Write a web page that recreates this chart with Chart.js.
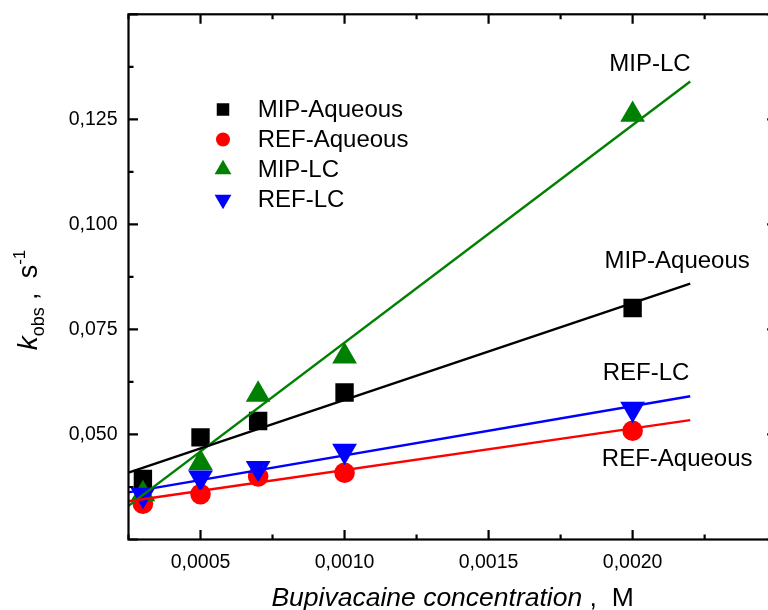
<!DOCTYPE html>
<html><head><meta charset="utf-8">
<script src="https://cdn.jsdelivr.net/npm/chart.js@4/dist/chart.umd.min.js"></script>
<style>
html,body{margin:0;padding:0;background:#fff;overflow:hidden;}
#wrap{position:relative;width:792px;height:610px;}
</style></head><body>
<div id="wrap"><canvas id="c"></canvas></div>
<script>
// ---- data ----
const concentrations = [0.0003, 0.0005, 0.0007, 0.0010, 0.0020];
const mipAqueous = [0.0394, 0.0493, 0.0532, 0.0600, 0.0801];
const refAqueous = [0.0335, 0.0358, 0.0400, 0.0409, 0.0509];
const mipLC      = [0.0358, 0.0432, 0.0595, 0.0686, 0.1261];
const refLC      = [0.0356, 0.0397, 0.0420, 0.0461, 0.0561];
const fitX          = [0.00025, 0.0022];
const fitMipAqueous = [0.0409, 0.0859];
const fitRefAqueous = [0.0341, 0.0534];
const fitMipLC      = [0.0330, 0.1340];
const fitRefLC      = [0.0362, 0.0591];
const seriesNames = ['MIP-Aqueous', 'REF-Aqueous', 'MIP-LC', 'REF-LC'];
const xTickValues = [0.0005, 0.0010, 0.0015, 0.0020];
const xTickLabels = ['0,0005', '0,0010', '0,0015', '0,0020'];
const yTickValues = [0.050, 0.075, 0.100, 0.125];
const yTickLabels = ['0,050', '0,075', '0,100', '0,125'];
// curve labels placed in data coordinates (left edge, baseline)
const curveLabelText = ['MIP-LC', 'MIP-Aqueous', 'REF-LC', 'REF-Aqueous'];
const curveLabelX = [0.001919, 0.001902, 0.001896, 0.001893];
const curveLabelY = [0.1366, 0.08965, 0.06285, 0.0425];

// ---- styles ----
const FONT = "'Liberation Sans', Arial, sans-serif";
const COLORS = ['#000000', '#ff0000', '#008000', '#0000ff'];
const MARKERS = [
  {pointStyle: 'rect', rotation: 0, radius: 13},
  {pointStyle: 'circle', rotation: 0, radius: 10.3},
  {pointStyle: 'triangle', rotation: 0, radius: 14.3},
  {pointStyle: 'triangle', rotation: 180, radius: 14.3}
];
const X_MAJOR = 0.0005, Y_MAJOR = 0.025;

const markerSeries = [mipAqueous, refAqueous, mipLC, refLC];
const fitSeries = [fitMipAqueous, fitRefAqueous, fitMipLC, fitRefLC];
const datasets = [];
fitSeries.forEach((ys, i) => datasets.push({
  label: seriesNames[i] + ' fit',
  data: fitX.map((x, j) => ({x: x, y: ys[j]})),
  showLine: true, borderColor: COLORS[i], borderWidth: 2.4,
  pointRadius: 0, pointHoverRadius: 0, order: 0
}));
markerSeries.forEach((ys, i) => datasets.push({
  label: seriesNames[i],
  data: concentrations.map((x, j) => ({x: x, y: ys[j]})),
  showLine: false,
  backgroundColor: COLORS[i], borderColor: COLORS[i], borderWidth: 0,
  pointStyle: MARKERS[i].pointStyle, pointRotation: MARKERS[i].rotation,
  pointRadius: MARKERS[i].radius, pointHoverRadius: MARKERS[i].radius,
  order: 4 - i
}));

function isMult(v, step) { const r = v / step; return Math.abs(r - Math.round(r)) < 1e-6; }
function lookup(vals, labels, v) {
  for (let i = 0; i < vals.length; i++) if (Math.abs(vals[i] - v) < 1e-9) return labels[i];
  return '';
}

const framePlugin = {
  id: 'frame',
  afterDraw(chart) {
    const ctx = chart.ctx, a = chart.chartArea;
    const xs = chart.scales.x, ys = chart.scales.y;
    ctx.save();
    ctx.strokeStyle = '#000';
    ctx.lineWidth = 2.2;
    ctx.strokeRect(a.left, a.top, a.right - a.left, a.bottom - a.top);
    ctx.beginPath();
    xs.ticks.forEach(t => {
      const p = xs.getPixelForValue(t.value);
      const L = isMult(t.value, X_MAJOR) ? 9.5 : 5;
      ctx.moveTo(p, a.bottom); ctx.lineTo(p, a.bottom - L);
      ctx.moveTo(p, a.top); ctx.lineTo(p, a.top + L);
    });
    ys.ticks.forEach(t => {
      const p = ys.getPixelForValue(t.value);
      const L = isMult(t.value, Y_MAJOR) ? 9.5 : 5;
      ctx.moveTo(a.left, p); ctx.lineTo(a.left + L, p);
      ctx.moveTo(a.right, p); ctx.lineTo(a.right - L, p);
    });
    ctx.stroke();

    // legend
    const lx = 223, tx = 257.7, ly0 = 109.5, dy = 30;
    ctx.font = '24px ' + FONT;
    ctx.textBaseline = 'middle';
    ctx.textAlign = 'left';
    seriesNames.forEach((name, i) => {
      const y = ly0 + dy * i;
      ctx.fillStyle = COLORS[i];
      Chart.helpers.drawPoint(ctx, {
        pointStyle: MARKERS[i].pointStyle, rotation: MARKERS[i].rotation,
        radius: MARKERS[i].radius * 0.68, borderWidth: 0
      }, lx, y);
      ctx.fillStyle = '#000';
      ctx.fillText(name, tx, y + 1);
    });

    // curve labels
    ctx.textBaseline = 'alphabetic';
    curveLabelText.forEach((s, i) => {
      ctx.fillText(s, xs.getPixelForValue(curveLabelX[i]), ys.getPixelForValue(curveLabelY[i]));
    });

    // x title
    const cx = (a.left + a.right) / 2;
    const p1 = 'Bupivacaine concentration', p2 = ' ,  M';
    ctx.font = 'italic 26.5px ' + FONT;
    const w1 = ctx.measureText(p1).width;
    ctx.font = '26.5px ' + FONT;
    const w2 = ctx.measureText(p2).width;
    let x0 = cx - (w1 + w2) / 2;
    ctx.font = 'italic 26.5px ' + FONT;
    ctx.fillText(p1, x0, 606);
    ctx.font = '26.5px ' + FONT;
    ctx.fillText(p2, x0 + w1, 606);

    // y title (rotated)
    const parts = [
      {t: 'k', f: 'italic 28px ' + FONT, dy: 0},
      {t: 'obs', f: '18px ' + FONT, dy: 7},
      {t: ' ,  ', f: '26px ' + FONT, dy: 0},
      {t: 's', f: '27px ' + FONT, dy: 0},
      {t: '-1', f: '17px ' + FONT, dy: -12}
    ];
    let total = 0;
    parts.forEach(p => { ctx.font = p.f; p.w = ctx.measureText(p.t).width; total += p.w; });
    ctx.translate(37, 300);
    ctx.rotate(-Math.PI / 2);
    let px = -total / 2;
    parts.forEach(p => { ctx.font = p.f; ctx.fillText(p.t, px, p.dy); px += p.w; });
    ctx.restore();
  }
};

Chart.defaults.font.family = FONT;
new Chart(document.getElementById('c'), {
  type: 'scatter',
  data: {datasets: datasets},
  options: {
    responsive: true, maintainAspectRatio: false, animation: false,
    layout: {padding: {top: 12, right: 15.35, left: 0, bottom: 0}},
    plugins: {legend: {display: false}, tooltip: {enabled: false}},
    events: [],
    scales: {
      x: {
        type: 'linear', min: 0.00025, max: 0.0025,
        grid: {display: false, drawTicks: false}, border: {display: false},
        ticks: {
          stepSize: 0.00025, autoSkip: false, maxRotation: 0, padding: 11,
          color: '#000', font: {size: 19.5, family: FONT},
          callback: v => lookup(xTickValues, xTickLabels, v)
        },
        afterFit(s) { s.height = 70.5; s.paddingLeft = 0; s.paddingRight = 0; }
      },
      y: {
        type: 'linear', min: 0.025, max: 0.15,
        grid: {display: false, drawTicks: false}, border: {display: false},
        ticks: {
          stepSize: 0.0125, autoSkip: false, padding: 11,
          color: '#000', font: {size: 19.5, family: FONT},
          callback: v => lookup(yTickValues, yTickLabels, v)
        },
        afterFit(s) { s.width = 128.5; s.paddingTop = 0; s.paddingBottom = 0; }
      }
    }
  },
  plugins: [framePlugin]
});
</script>
</body></html>
